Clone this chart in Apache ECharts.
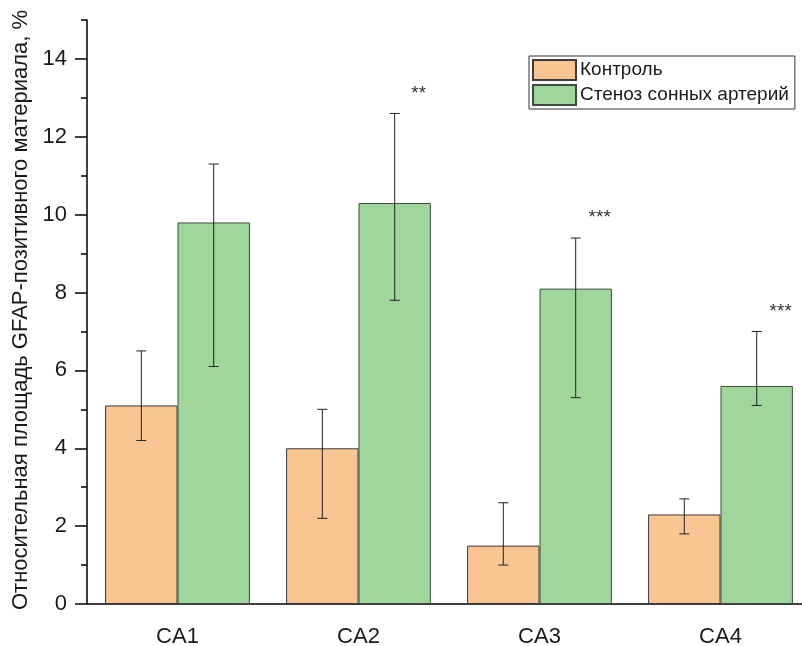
<!DOCTYPE html>
<html>
<head>
<meta charset="utf-8">
<script src="https://cdn.jsdelivr.net/npm/echarts@6/dist/echarts.min.js"></script>
<style>
  html, body { margin: 0; padding: 0; background: #fff; }
  #chart { width: 802px; height: 646px; }
</style>
</head>
<body>
<div id="chart"></div>
<script>
// data
const categories = ['CA1', 'CA2', 'CA3', 'CA4'];
const controlMean = [5.1, 4.0, 1.5, 2.3];
const controlLow = [4.2, 2.2, 1.0, 1.8];
const controlHigh = [6.5, 5.0, 2.6, 2.7];
const stenosisMean = [9.8, 10.3, 8.1, 5.6];
const stenosisLow = [6.1, 7.8, 5.3, 5.1];
const stenosisHigh = [11.3, 12.6, 9.4, 7.0];
const significance = ['', '**', '***', '***'];
const yMajorTicks = [0, 2, 4, 6, 8, 10, 12, 14];
const yMinorTicks = [1, 3, 5, 7, 9, 11, 13, 15];

const font = "'Liberation Sans', Arial, sans-serif";
const ink = '#1a1a1a';

let errorBars = function (lows, highs, side, marks) {
  return {
    type: 'custom',
    xAxisIndex: 0,
    yAxisIndex: 0,
    z: 5,
    clip: false,
    encode: {x: 0, y: [1, 2]},
    data: lows.map((v, i) => [i, v, highs[i]]),
    renderItem: function (params, api) {
      let i = api.value(0);
      let lo = api.coord([i, api.value(1)]);
      let hi = api.coord([i, api.value(2)]);
      let band = api.size([1, 0])[0];
      let x = lo[0] + side * band * 0.2;
      let cap = 5;
      let style = {stroke: '#222', lineWidth: 1};
      let children = [
        {type: 'line', shape: {x1: x, y1: lo[1], x2: x, y2: hi[1]}, style: style},
        {type: 'line', shape: {x1: x - cap, y1: lo[1], x2: x + cap, y2: lo[1]}, style: style},
        {type: 'line', shape: {x1: x - cap, y1: hi[1], x2: x + cap, y2: hi[1]}, style: style}
      ];
      if (marks && marks[params.dataIndex]) {
        children.push({
          type: 'text',
          style: {
            x: x + 24, y: hi[1] - 20,
            text: marks[params.dataIndex],
            fill: '#333', font: '19px ' + font,
            align: 'center', verticalAlign: 'middle'
          }
        });
      }
      return {type: 'group', children: children};
    }
  };
};

let option = {
  backgroundColor: '#fff',
  animation: false,
  textStyle: {fontFamily: font, color: ink},
  grid: {left: 87, top: 20, height: 584, width: 724, outerBoundsMode: 'none', containLabel: false},
  legend: {
    orient: 'vertical',
    left: 529,
    top: 56,
    padding: [3, 6, 3, 3],
    itemGap: 3,
    itemWidth: 43,
    itemHeight: 20,
    borderColor: '#333',
    borderWidth: 1,
    icon: 'rect',
    textStyle: {fontSize: 19, color: ink, fontFamily: font, padding: [0, 0, 0, -1]},
    data: ['Контроль', 'Стеноз сонных артерий']
  },
  xAxis: [
    {
      type: 'category',
      data: categories,
      axisLine: {lineStyle: {color: '#000', width: 1.5}},
      axisTick: {alignWithLabel: true, length: 10, lineStyle: {color: '#000', width: 1.5}},
      axisLabel: {fontSize: 22, color: ink, margin: 22, fontFamily: font},
      splitLine: {show: false}
    },
    {
      type: 'category',
      data: categories,
      position: 'bottom',
      axisLine: {show: false},
      axisTick: {length: 4, lineStyle: {color: '#000', width: 1.5}},
      axisLabel: {show: false},
      splitLine: {show: false}
    }
  ],
  yAxis: [
    {
      type: 'value',
      min: 0,
      max: 15,
      interval: 1,
      position: 'left',
      name: 'Относительная площадь GFAP-позитивного материала, %',
      nameLocation: 'middle',
      nameRotate: 90,
      nameGap: 54,
      nameTextStyle: {fontSize: 22, color: ink, fontFamily: font, padding: [0, 0, 0, 4]},
      axisLine: {show: true, lineStyle: {color: '#000', width: 1.5}},
      axisTick: {show: true, length: 12, customValues: yMajorTicks, lineStyle: {color: '#000', width: 1.5}},
      axisLabel: {fontSize: 22, color: ink, margin: 20, customValues: yMajorTicks, fontFamily: font},
      splitLine: {show: false}
    },
    {
      type: 'value',
      min: 0,
      max: 15,
      interval: 1,
      position: 'left',
      axisLine: {show: false},
      axisTick: {show: true, length: 6, customValues: yMinorTicks, lineStyle: {color: '#000', width: 1.5}},
      axisLabel: {show: false},
      splitLine: {show: false}
    }
  ],
  series: [
    {
      name: 'Контроль',
      type: 'bar',
      barWidth: '40%',
      barGap: '0%',
      itemStyle: {color: '#F9C593', borderColor: '#3a3a3a', borderWidth: 1},
      data: controlMean
    },
    {
      name: 'Стеноз сонных артерий',
      type: 'bar',
      barWidth: '40%',
      barGap: '0%',
      itemStyle: {color: '#9ED69C', borderColor: '#3f4a3f', borderWidth: 1},
      data: stenosisMean
    },
    errorBars(controlLow, controlHigh, -1, null),
    errorBars(stenosisLow, stenosisHigh, 1, significance)
  ]
};

let myChart = echarts.init(document.getElementById('chart'));
myChart.setOption(option);
</script>
</body>
</html>
